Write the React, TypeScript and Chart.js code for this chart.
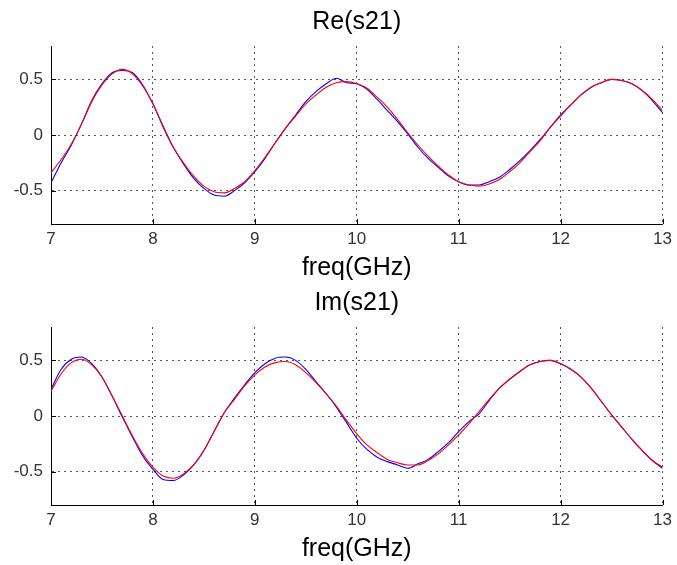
import React, { useEffect, useRef } from "react";
import { Chart, registerables } from "chart.js";

Chart.register(...registerables);

const freq = [
  7.0, 7.1, 7.2, 7.3, 7.4, 7.5, 7.6, 7.7, 7.8, 7.9,
  8.0, 8.1, 8.2, 8.3, 8.4, 8.5, 8.6, 8.7, 8.8, 8.9,
  9.0, 9.1, 9.2, 9.3, 9.4, 9.5, 9.6, 9.7, 9.8, 9.9,
  10.0, 10.1, 10.2, 10.3, 10.4, 10.5, 10.6, 10.7, 10.8, 10.9,
  11.0, 11.1, 11.2, 11.3, 11.4, 11.5, 11.6, 11.7, 11.8, 11.9,
  12.0, 12.1, 12.2, 12.3, 12.4, 12.5, 12.6, 12.7, 12.8, 12.9,
  13.0,
];

const reModel = [
  -0.34, -0.22, -0.08, 0.1, 0.3, 0.45, 0.55, 0.59, 0.55, 0.44,
  0.28, 0.07, -0.11, -0.25, -0.37, -0.46, -0.51, -0.52, -0.48, -0.42,
  -0.32, -0.2, -0.07, 0.06, 0.17, 0.28, 0.36, 0.43, 0.47, 0.48,
  0.46, 0.42, 0.34, 0.25, 0.14, 0.02, -0.09, -0.19, -0.28, -0.36,
  -0.42, -0.45, -0.46, -0.44, -0.4, -0.33, -0.25, -0.15, -0.05, 0.07,
  0.17, 0.27, 0.36, 0.43, 0.47, 0.5, 0.49, 0.46, 0.4, 0.32,
  0.22,
];

const reMeasured = [
  -0.43, -0.25, -0.09, 0.1, 0.31, 0.46, 0.56, 0.58, 0.56, 0.45,
  0.28, 0.08, -0.11, -0.26, -0.39, -0.48, -0.54, -0.55, -0.5, -0.43,
  -0.33, -0.21, -0.07, 0.06, 0.18, 0.3, 0.39, 0.46, 0.51, 0.47,
  0.46, 0.41, 0.32, 0.22, 0.12, 0.01, -0.11, -0.21, -0.29, -0.37,
  -0.42, -0.45, -0.45, -0.42, -0.38, -0.31, -0.23, -0.14, -0.04, 0.07,
  0.18, 0.27, 0.36, 0.43, 0.47, 0.5, 0.49, 0.46, 0.4, 0.31,
  0.2,
];

const imModel = [
  0.22, 0.38, 0.48, 0.51, 0.46, 0.35, 0.18, 0.0, -0.18, -0.34,
  -0.46, -0.54, -0.56, -0.52, -0.44, -0.31, -0.14, 0.03, 0.15, 0.27,
  0.37, 0.44, 0.48, 0.49, 0.46, 0.39, 0.3, 0.2, 0.09, -0.04,
  -0.16, -0.26, -0.33, -0.39, -0.42, -0.44, -0.44, -0.4, -0.34, -0.26,
  -0.17, -0.07, 0.04, 0.15, 0.25, 0.33, 0.4, 0.46, 0.49, 0.5,
  0.47, 0.42, 0.35, 0.25, 0.13, 0.01, -0.1, -0.21, -0.31, -0.4,
  -0.46,
];

const imMeasured = [
  0.24, 0.42, 0.51, 0.53, 0.47, 0.35, 0.18, -0.01, -0.19, -0.36,
  -0.48, -0.57, -0.58, -0.53, -0.44, -0.31, -0.14, 0.03, 0.16, 0.28,
  0.39, 0.47, 0.52, 0.53, 0.5, 0.42, 0.31, 0.2, 0.08, -0.06,
  -0.2, -0.3, -0.37, -0.41, -0.44, -0.47, -0.43, -0.39, -0.32, -0.24,
  -0.14, -0.05, 0.02, 0.14, 0.25, 0.33, 0.4, 0.46, 0.49, 0.5,
  0.47, 0.42, 0.35, 0.25, 0.13, 0.01, -0.1, -0.21, -0.31, -0.4,
  -0.47,
];

const xTicks = [7, 8, 9, 10, 11, 12, 13];
const yTicks = [-0.5, 0, 0.5];
const yTickLabels = ["-0.5", "0", "0.5"];
const xLabel = "freq(GHz)";

const FONT = "'Liberation Sans', Arial, Helvetica, sans-serif";

const inwardTicks = {
  id: "inwardTicks",
  afterDatasetsDraw(chart: any) {
    const { ctx, chartArea, scales } = chart;
    ctx.save();
    ctx.strokeStyle = "#000";
    ctx.lineWidth = 1;
    ctx.beginPath();
    xTicks.forEach((v) => {
      const px = Math.round(scales.x.getPixelForValue(v)) + 0.5;
      ctx.moveTo(px, chartArea.bottom);
      ctx.lineTo(px, chartArea.bottom - 5);
    });
    yTicks.forEach((v) => {
      const py = Math.round(scales.y.getPixelForValue(v)) + 0.5;
      ctx.moveTo(chartArea.left, py);
      ctx.lineTo(chartArea.left + 5, py);
    });
    ctx.stroke();
    ctx.restore();
  },
};

function makeConfig(title: string, model: number[], measured: number[]): any {
  const pts = (arr: number[]) => freq.map((f, i) => ({ x: f, y: arr[i] }));
  return {
    type: "line",
    data: {
      datasets: [
        {
          label: "model",
          data: pts(model),
          borderColor: "#ff0000",
          borderWidth: 1.1,
          pointRadius: 0,
          cubicInterpolationMode: "monotone",
          fill: false,
        },
        {
          label: "measured",
          data: pts(measured),
          borderColor: "#0000ff",
          borderWidth: 1.1,
          pointRadius: 0,
          cubicInterpolationMode: "monotone",
          fill: false,
        },
      ],
    },
    options: {
      animation: false,
      responsive: false,
      events: [],
      layout: { padding: { left: 0, right: 10, top: 0, bottom: 0 } },
      plugins: {
        legend: { display: false },
        tooltip: { enabled: false },
        title: {
          display: true,
          text: title,
          color: "#000",
          fullSize: false,
          font: { family: FONT, size: 25, weight: "normal", lineHeight: 1 },
          padding: { top: 9.5, bottom: 11.5 },
        },
      },
      scales: {
        x: {
          type: "linear",
          min: 7,
          max: 13,
          afterBuildTicks: (s: any) => {
            s.ticks = xTicks.map((v) => ({ value: v }));
          },
          afterFit: (s: any) => {
            s.height = 57;
          },
          ticks: {
            font: { family: FONT, size: 17 },
            color: "#333",
            padding: 5,
            maxRotation: 0,
            autoSkip: false,
          },
          grid: { color: "#555", lineWidth: 1, drawTicks: false },
          border: { display: true, color: "#000", width: 1, dash: [2, 4] },
          title: {
            display: true,
            text: xLabel,
            color: "#000",
            font: { family: FONT, size: 25, weight: "normal", lineHeight: 1 },
            padding: { top: 0, bottom: 0 },
          },
        },
        y: {
          type: "linear",
          min: -0.8,
          max: 0.8,
          afterBuildTicks: (s: any) => {
            s.ticks = yTicks.map((v) => ({ value: v }));
          },
          afterFit: (s: any) => {
            s.width = 51;
          },
          ticks: {
            font: { family: FONT, size: 17 },
            color: "#333",
            padding: 8,
            callback: (v: number) => {
              const i = yTicks.indexOf(v);
              return i >= 0 ? yTickLabels[i] : "";
            },
          },
          grid: { color: "#555", lineWidth: 1, drawTicks: false },
          border: { display: true, color: "#000", width: 1, dash: [2, 4] },
        },
      },
    },
    plugins: [inwardTicks],
  };
}

function Panel({ title, model, measured }: { title: string; model: number[]; measured: number[] }) {
  const ref = useRef<HTMLCanvasElement | null>(null);
  useEffect(() => {
    if (!ref.current) return;
    const chart = new Chart(ref.current, makeConfig(title, model, measured));
    return () => chart.destroy();
  }, [title, model, measured]);
  return <canvas ref={ref} width={677} height={281} style={{ display: "block", width: 677, height: 281 }} />;
}

export default function App() {
  return (
    <div style={{ position: "absolute", left: 0, top: 0, width: 677, height: 565, background: "#fff" }}>
      <Panel title="Re(s21)" model={reModel} measured={reMeasured} />
      <Panel title="Im(s21)" model={imModel} measured={imMeasured} />
    </div>
  );
}
